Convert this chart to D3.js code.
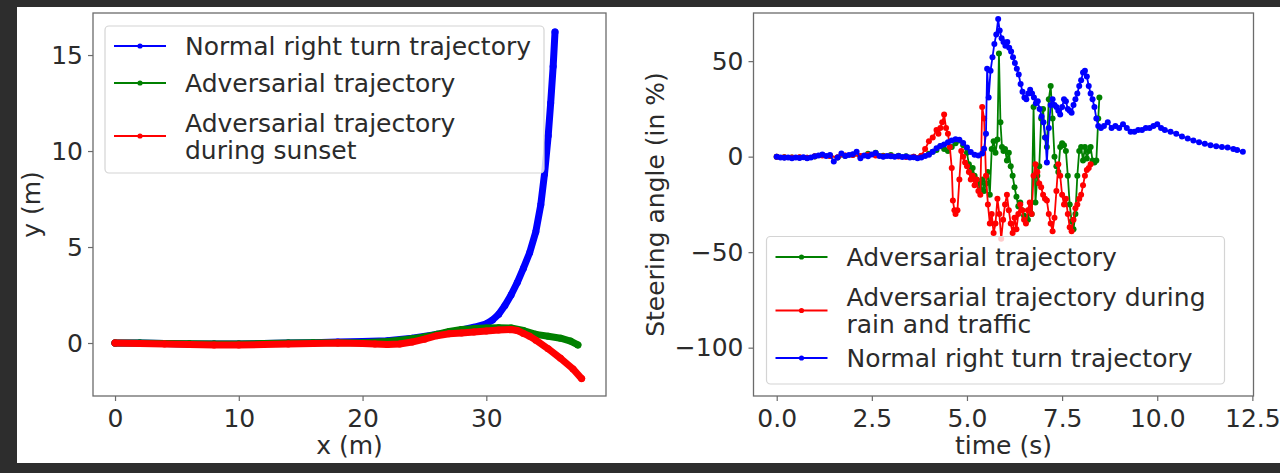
<!DOCTYPE html>
<html>
<head>
<meta charset="utf-8">
<script src="https://cdn.jsdelivr.net/npm/d3@7"></script>
<style>
  body { margin: 0; background: #2d2d2d; }
  text { font-family: "DejaVu Sans", sans-serif; fill: #2b2b2b; }
</style>
</head>
<body>
<script>
// left panel: x/y path (m)
var normalPath = [[0,0],[2,0],[4,-0.02],[6,-0.05],[8,-0.05],[10,-0.05],[12,-0.03],[14,0],[16,0.02],[18,0.05],[20,0.08],
  [22,0.12],[24,0.25],[26,0.45],[27,0.55],[28,0.68],[29,0.82],[30,1.0],[30.5,1.2],[31,1.5],[31.5,1.95],[32,2.5],[32.5,3.15],
  [33,3.9],[33.5,4.7],[34,5.8],[34.4,7.2],[34.7,8.8],[35,10.8],[35.2,12.5],[35.4,14.4],[35.55,16.2]];
var advPath = [[0,0],[2,0],[4,-0.02],[6,-0.04],[8,-0.05],[10,-0.05],[12,-0.03],[14,0],[16,0.01],[18,0.02],[20,0.02],
  [22,0.08],[23,0.15],[24,0.22],[25,0.32],[26,0.45],[27,0.6],[28,0.7],[29,0.75],[30,0.78],[31,0.8],[32,0.78],[33,0.65],
  [34,0.45],[35,0.35],[36,0.25],[36.8,0.1],[37.4,-0.1]];
var sunsetPath = [[0,0],[2,-0.02],[4,-0.05],[6,-0.08],[8,-0.1],[10,-0.1],[12,-0.08],[14,-0.05],[16,-0.02],[18,0],[20,-0.02],
  [21,-0.05],[22,-0.08],[23,-0.05],[24,0.05],[25,0.2],[26,0.38],[27,0.48],[28,0.52],[29,0.57],[30,0.62],[31,0.68],[32,0.7],
  [32.5,0.65],[33,0.5],[33.5,0.35],[34,0.15],[35,-0.3],[36,-0.8],[37,-1.35],[37.7,-1.85]];

// right panel: steering angle (%) over time (s)
var advSteer = [[0,0],[0.2,-0.3],[0.4,-0.5],[0.6,-0.4],[0.8,-0.6],[1.0,0.1],[1.2,0.8],[1.4,0.5],[1.6,-0.5],[1.8,0.5],[2.0,1.0],
  [2.2,0.2],[2.4,1.5],[2.6,2.0],[2.8,0.5],[3.0,0.8],[3.2,0.5],[3.4,0.2],[3.6,0.0],[3.8,0.3],[4.0,1.5],[4.1,2.5],[4.2,3.5],
  [4.3,5.5],[4.4,4],[4.5,3],[4.6,5],[4.7,7],[4.8,8.5],[4.9,6],[5.0,2],[5.05,-4],[5.1,-8],[5.15,-6],[5.2,-10],[5.25,-12],
  [5.3,-14],[5.35,-17],[5.4,-12],[5.45,-18],[5.5,-14],[5.55,-8],[5.6,-20],[5.65,4],[5.7,8],[5.75,2],[5.8,9],[5.84,54],
  [5.88,18],[5.92,5],[5.96,3],[6.0,4],[6.05,-2],[6.1,2],[6.15,-5],[6.2,-10],[6.25,-16],[6.3,-21],[6.35,-26],[6.4,-24],
  [6.45,-28],[6.5,-31],[6.55,-32],[6.6,-33],[6.65,-28],[6.7,-30],[6.75,26],[6.8,-24],[6.85,-10],[6.9,-5],[6.95,20],[7.0,25],
  [7.05,10],[7.1,5],[7.15,30],[7.2,37],[7.25,20],[7.3,0],[7.35,-5],[7.4,-8],[7.45,5],[7.5,7],[7.55,6],[7.6,3],[7.65,-10],
  [7.7,-25],[7.75,-34],[7.8,-38],[7.85,-30],[7.9,-10],[7.95,3],[8.0,5],[8.05,-2],[8.1,5],[8.15,-1],[8.2,3],[8.25,5],
  [8.3,-2],[8.35,-3],[8.4,-2],[8.45,20],[8.48,31]];
var rainSteer = [[0,0],[0.2,-0.3],[0.4,-0.5],[0.6,-0.3],[0.8,-0.6],[1.0,0.2],[1.2,0.6],[1.4,0.3],[1.6,-0.3],[1.8,0.6],[2.0,0.8],
  [2.2,0.3],[2.4,1.0],[2.6,0.6],[2.8,0.2],[3.0,0.3],[3.2,0.1],[3.4,-0.2],[3.6,0.0],[3.8,0.5],[3.9,4],[4.0,8],[4.1,10],
  [4.2,14],[4.25,12],[4.3,15],[4.35,18],[4.4,22],[4.45,15],[4.5,12],[4.55,5],[4.6,-6],[4.63,-23],[4.67,-28],[4.7,-30],
  [4.75,-28],[4.8,-12],[4.85,3],[4.9,0],[4.95,-3],[5.0,-5],[5.05,-8],[5.1,-12],[5.15,-10],[5.2,-15],[5.25,-12],[5.3,-18],
  [5.35,-20],[5.4,26],[5.45,20],[5.5,-10],[5.55,-25],[5.6,-35],[5.65,-30],[5.7,-40],[5.75,-35],[5.8,-22],[5.85,-30],
  [5.9,-43],[5.95,-33],[6.0,-25],[6.05,-20],[6.1,-28],[6.15,-35],[6.2,-40],[6.25,-32],[6.3,-38],[6.35,-30],[6.4,-25],
  [6.45,-28],[6.5,-33],[6.55,-35],[6.6,-28],[6.65,-24],[6.7,-30],[6.75,-10],[6.8,-4],[6.85,-8],[6.9,-14],[6.95,-16],
  [7.0,-20],[7.05,-22],[7.1,-23],[7.15,-30],[7.2,-35],[7.25,-39],[7.3,-32],[7.35,-18],[7.4,-4],[7.45,-10],[7.5,-20],
  [7.55,-25],[7.6,-22],[7.65,-30],[7.7,-37],[7.75,-39],[7.8,-33],[7.85,-27],[7.9,-25],[7.95,-22],[8.0,-20],[8.05,-15],
  [8.1,-10],[8.15,-7],[8.2,-6],[8.25,-4]];
var normalSteer = [[0,0],[0.1,-0.4],[0.2,-0.6],[0.3,-0.5],[0.4,-0.8],[0.5,-0.5],[0.6,-0.7],[0.7,-0.3],[0.8,-0.9],[0.9,-0.4],
  [1.0,0.2],[1.1,0.6],[1.2,1.1],[1.3,0.3],[1.4,0.9],[1.5,-2.6],[1.6,-0.4],[1.7,1.6],[1.8,0.3],[1.9,0.9],[2.0,1.3],[2.1,2.6],
  [2.2,-0.8],[2.3,0.6],[2.4,0.2],[2.5,1.1],[2.6,1.9],[2.7,0.3],[2.8,0.0],[2.9,0.4],[3.0,0.2],[3.1,0.0],[3.2,0.3],[3.3,-0.2],
  [3.4,0.1],[3.5,-0.5],[3.6,-0.3],[3.7,-0.9],[3.8,-0.5],[3.9,0.4],[4.0,1.0],[4.1,2.6],[4.2,4.4],[4.3,5.6],[4.4,6.4],[4.5,7.6],
  [4.6,8.4],[4.7,9.1],[4.8,8.8],[4.9,7.2],[5.0,4.8],[5.1,2.4],[5.2,1.0],[5.3,0.6],[5.4,1.6],[5.45,4.2],[5.5,12],[5.53,46],
  [5.57,31],[5.62,45],[5.67,52],[5.72,59],[5.77,64],[5.82,72],[5.86,66],[5.91,62],[5.96,60],[6.01,58],[6.06,60],[6.11,57],
  [6.16,55],[6.21,52],[6.26,49],[6.31,46],[6.36,43],[6.41,38],[6.46,34],[6.51,31],[6.56,30],[6.61,33],[6.66,35],[6.71,33],
  [6.76,31],[6.81,28],[6.86,29],[6.91,25],[6.96,21],[7.01,18],[7.06,10],[7.1,-3],[7.15,15],[7.2,27],[7.25,30],[7.3,27],
  [7.35,26],[7.4,24],[7.45,22],[7.5,26],[7.55,30],[7.6,29],[7.65,25],[7.7,24],[7.75,23],[7.8,27],[7.85,30],[7.9,33],
  [7.95,37],[8.0,40],[8.05,44],[8.1,45],[8.15,42],[8.2,37],[8.25,33],[8.3,30],[8.35,26],[8.4,20],[8.45,16],[8.52,15],
  [8.6,16],[8.7,18],[8.8,15],[8.9,16],[9.0,15],[9.1,17],[9.2,15],[9.3,13],[9.4,13],[9.5,14],[9.6,14],[9.7,15],[9.8,15],
  [9.9,16],[10.0,17],[10.1,15],[10.2,14],[10.35,13],[10.5,12],[10.65,10.5],[10.8,9.5],[10.95,8.5],[11.1,7.5],[11.25,6.8],
  [11.4,6],[11.55,5.5],[11.7,5],[11.85,4.8],[12.0,4],[12.1,3.5],[12.25,2.5]];

var leftXTicks = [0, 10, 20, 30];
var leftYTicks = [0, 5, 10, 15];
var rightXTicks = [0, 2.5, 5, 7.5, 10, 12.5];
var rightYTicks = [-100, -50, 0, 50];

var leftLabels = ['Normal right turn trajectory', 'Adversarial trajectory', 'Adversarial trajectory\nduring sunset'];
var rightLabels = ['Adversarial trajectory', 'Adversarial trajectory during\nrain and traffic', 'Normal right turn trajectory'];

var W = 1280, H = 473;
var fs = 25;

var svg = d3.select('body').append('svg')
  .attr('width', W).attr('height', H);

svg.append('rect').attr('width', W).attr('height', H).attr('fill', '#2d2d2d');
svg.append('rect').attr('x', 17).attr('y', 7).attr('width', W - 17).attr('height', 456).attr('fill', '#fff');

function panel(cfg) {
  var b = cfg.box;
  var x = d3.scaleLinear().domain(cfg.xDomain).range([b.l, b.r]);
  var y = d3.scaleLinear().domain(cfg.yDomain).range([b.b, b.t]);
  var g = svg.append('g');

  var clipId = 'clip' + cfg.id;
  svg.append('clipPath').attr('id', clipId)
    .append('rect').attr('x', b.l).attr('y', b.t).attr('width', b.r - b.l).attr('height', b.b - b.t);

  var plot = g.append('g').attr('clip-path', 'url(#' + clipId + ')');
  var line = d3.line().x(function(d){ return x(d[0]); }).y(function(d){ return y(d[1]); });

  cfg.series.forEach(function(s) {
    plot.append('path')
      .attr('d', line(s.data))
      .attr('fill', 'none')
      .attr('stroke', s.color)
      .attr('stroke-width', cfg.lineW)
      .attr('stroke-linejoin', 'round')
      .attr('stroke-linecap', 'round');
    plot.selectAll(null)
      .data(s.data)
      .enter().append('circle')
      .attr('cx', function(d){ return x(d[0]); })
      .attr('cy', function(d){ return y(d[1]); })
      .attr('r', cfg.dotR)
      .attr('fill', s.color);
  });

  var xAxis = d3.axisBottom(x).tickValues(cfg.xTicks).tickSize(5).tickPadding(8).tickFormat(cfg.xFmt);
  var yAxis = d3.axisLeft(y).tickValues(cfg.yTicks).tickSize(5).tickPadding(5).tickFormat(cfg.yFmt);

  var ax = g.append('g').attr('transform', 'translate(0,' + b.b + ')').call(xAxis);
  var ay = g.append('g').attr('transform', 'translate(' + b.l + ',0)').call(yAxis);
  [ax, ay].forEach(function(a) {
    a.select('.domain').remove();
    a.selectAll('line').attr('stroke', '#6b6b6b').attr('stroke-width', 1.2);
    a.selectAll('text').attr('font-size', fs).attr('fill', '#2b2b2b')
      .attr('font-family', '"DejaVu Sans", sans-serif');
  });

  g.append('rect')
    .attr('x', b.l).attr('y', b.t).attr('width', b.r - b.l).attr('height', b.b - b.t)
    .attr('fill', 'none').attr('stroke', '#6b6b6b').attr('stroke-width', 1.3);

  g.append('text')
    .attr('x', (b.l + b.r) / 2).attr('y', 454)
    .attr('text-anchor', 'middle').attr('font-size', fs)
    .text(cfg.xLabel);
  g.append('text')
    .attr('transform', 'translate(' + cfg.yLabelX + ',' + ((b.t + b.b) / 2) + ') rotate(-90)')
    .attr('text-anchor', 'middle').attr('font-size', fs)
    .text(cfg.yLabel);

  // legend
  var lg = cfg.legend;
  var leg = g.append('g');
  leg.append('rect')
    .attr('x', lg.x).attr('y', lg.y).attr('width', lg.w).attr('height', lg.h)
    .attr('rx', 4).attr('fill', '#fff').attr('fill-opacity', 0.8)
    .attr('stroke', '#d4d4d4').attr('stroke-width', 1.2);
  lg.items.forEach(function(it, i) {
    var s = cfg.series.filter(function(q){ return q.key === it.key; })[0];
    var cy = lg.y + lg.rowY[i];
    leg.append('line')
      .attr('x1', lg.x + 9).attr('x2', lg.x + 61)
      .attr('y1', cy).attr('y2', cy)
      .attr('stroke', s.color).attr('stroke-width', 1.8);
    leg.append('circle').attr('cx', lg.x + 35).attr('cy', cy).attr('r', 2.6).attr('fill', s.color);
    var lines = it.label.split('\n');
    lines.forEach(function(t, k) {
      leg.append('text')
        .attr('x', lg.x + 80)
        .attr('y', cy + (k - (lines.length - 1) / 2) * 27)
        .attr('dy', '0.36em')
        .attr('font-size', fs)
        .text(t);
    });
  });
}

panel({
  id: 'L',
  box: {l: 93, r: 606, t: 13, b: 396},
  xDomain: [-1.78, 39.67],
  yDomain: [-2.76, 17.19],
  xTicks: leftXTicks, yTicks: leftYTicks,
  xFmt: d3.format('d'), yFmt: d3.format('d'),
  xLabel: 'x (m)', yLabel: 'y (m)', yLabelX: 40,
  lineW: 7, dotR: 3.5,
  series: [
    {key: 'normal', data: normalPath, color: '#0000ff'},
    {key: 'adv', data: advPath, color: '#008000'},
    {key: 'sunset', data: sunsetPath, color: '#ff0000'}
  ],
  legend: {x: 105, y: 26, w: 439, h: 147, rowY: [20, 57, 110],
    items: [{key: 'normal', label: leftLabels[0]}, {key: 'adv', label: leftLabels[1]}, {key: 'sunset', label: leftLabels[2]}]}
});

panel({
  id: 'R',
  box: {l: 753.5, r: 1253.5, t: 13, b: 396},
  xDomain: [-0.61, 12.53],
  yDomain: [-125.3, 75.2],
  xTicks: rightXTicks, yTicks: rightYTicks,
  xFmt: d3.format('.1f'), yFmt: d3.format('d'),
  xLabel: 'time (s)', yLabel: 'Steering angle (in %)', yLabelX: 664,
  lineW: 1.8, dotR: 3,
  series: [
    {key: 'adv', data: advSteer, color: '#008000'},
    {key: 'rain', data: rainSteer, color: '#ff0000'},
    {key: 'normal', data: normalSteer, color: '#0000ff'}
  ],
  legend: {x: 766.5, y: 236.5, w: 458, h: 147.5, rowY: [20.5, 74, 121.5],
    items: [{key: 'adv', label: rightLabels[0]}, {key: 'rain', label: rightLabels[1]}, {key: 'normal', label: rightLabels[2]}]}
});
</script>
</body>
</html>
